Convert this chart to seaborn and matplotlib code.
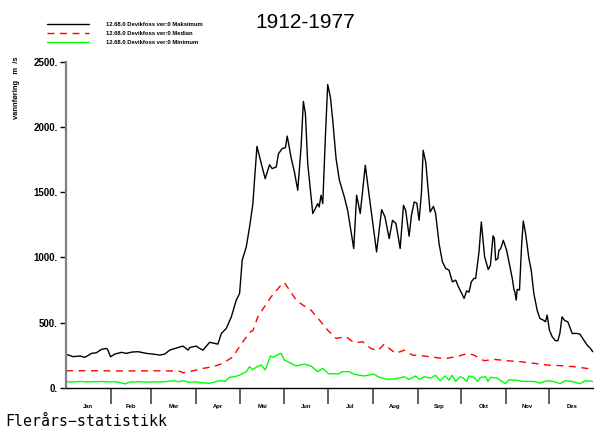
import numpy as np
import pandas as pd
import matplotlib
matplotlib.use("Agg")
import matplotlib.pyplot as plt
import seaborn as sns

# ---------------- data (day of year, flow m3/s) ----------------
max_day = [0, 5, 9.7, 13, 17.7, 21, 24.6, 28, 29, 30.8, 33.8, 38.4, 41.8, 45.3, 49.9, 55.6,
           61.4, 64.8, 68.3, 71.7, 76.3, 80.9, 84.4, 85.5, 90, 92.4, 94.7, 99.3, 102.8, 105,
           107.4, 110.8, 114.3, 117.7, 120, 121.8, 124.6, 126.9, 129.2, 130.3, 132, 135, 137.7,
           140.7, 142.5, 145.3, 146.9, 149.4, 151.7, 152.9, 153.9, 155.6, 157.9, 160.2, 162.5,
           164.1, 165.5, 167.1, 170.6, 172.9, 174, 175, 176.3, 177.5, 179.3, 180.9, 182.8, 184.4,
           186.7, 189, 192.4, 194.7, 198.9, 200.9, 203.4, 206.9, 209.7, 214.7, 218.2, 220.5,
           223.4, 225.7, 228.1, 231, 233.3, 234.8, 237.2, 238.8, 240.7, 242.5, 244.1, 245.7,
           246.9, 248.7, 251.7, 254, 255.5, 257.9, 260.2, 262.5, 264.8, 267.1, 269.4, 271.3,
           275.2, 277, 278.6, 280.2, 282, 283.2, 285.5, 287.1, 289.4, 291.9, 293.4, 295.2, 296.1,
           297, 298.5, 299.3, 300.5, 302.3, 304.6, 306.9, 308.5, 309.7, 310.3, 311.2, 311.9,
           313.5, 314.9, 316.1, 317.7, 320, 321.6, 323.4, 325.7, 327.6, 329.9, 331.5, 332.6,
           334.2, 336.1, 338.4, 340, 341.4, 342.9, 344.8, 346.9, 349.9, 352.9, 355.2, 357.9,
           360.2, 362.6, 364.1]
max_flow = [258, 240, 245, 235, 265, 270, 296, 303, 290, 239, 260, 273, 265, 275, 278, 265,
            258, 252, 260, 290, 306, 321, 290, 310, 321, 303, 290, 350, 341, 336,
            418, 456, 545, 673, 724, 979, 1080, 1233, 1412, 1590, 1850, 1718, 1603,
            1710, 1680, 1692, 1794, 1833, 1840, 1929, 1870, 1764, 1654, 1514, 1845,
            2194, 2100, 1718, 1336, 1386, 1412, 1386, 1476, 1412, 1921, 2324, 2227, 2049,
            1756, 1590, 1463, 1361, 1068, 1476, 1336, 1705, 1463, 1042, 1366, 1310,
            1144, 1284, 1259, 1068, 1399, 1361, 1162, 1323, 1424, 1416, 1284, 1491,
            1820, 1730, 1348, 1391, 1336, 1106, 966, 915, 902, 813, 826, 775,
            686, 744, 734, 813, 839, 839, 1042, 1271, 1004, 907, 940, 1165, 1146,
            979, 991, 1055, 1067, 1131, 1055, 928, 839, 750, 737, 673, 755,
            750, 1080, 1279, 1183, 991, 902, 724, 596, 533, 520, 507, 558,
            443, 392, 362, 362, 418, 545, 516, 507, 418, 418, 413, 367,
            329, 303, 278]

med_day = [0, 20, 40, 60, 78, 81, 84, 88, 92.4, 94.7, 101.6, 108.5, 115.4, 120.7, 122.3, 126.9,
           129.2, 132.6, 137.2, 141.8, 147.6, 151, 154.5, 159.1, 163.7, 169.4, 175.2, 180.9,
           186.7, 193.6, 199.3, 205, 210.8, 215.4, 220, 223.4, 228, 233.8, 239.5, 247.6, 254.5,
           261.4, 267.1, 271.7, 277.5, 282, 289, 295.9, 305, 314.3, 323.4, 332.6, 341.8, 351,
           360.2, 364]
med_flow = [132, 132, 130, 132, 130, 117, 125, 132, 143, 150, 163, 189, 239, 330, 354, 425,
            440, 545, 622, 698, 775, 808, 749, 673, 635, 596, 520, 443,
            380, 392, 346, 354, 303, 285, 336, 303, 265, 290, 252, 245, 235,
            224, 235, 245, 265, 252, 209, 219, 209, 201, 189, 176, 171, 163,
            150, 138]

min_day = [0, 5, 10, 15, 20, 25, 30, 35, 41, 44, 50, 55, 60, 65, 70, 75, 78, 81, 85, 90, 92.4,
           99, 106, 110, 113, 117, 120, 124.6, 126.9, 129, 132, 135, 137.7, 141.4, 143.5, 145.7,
           148.7, 151, 155.6, 159.1, 164.8, 169.4, 174, 177.5, 181.6, 183, 188.5, 191, 195.6,
           199.3, 206, 212.6, 216.6, 222.3, 228, 233.8, 237, 241.8, 244, 247.6, 252, 255.5,
           258.6, 262, 264.8, 267, 269.4, 272.4, 274.7, 277, 278.6, 282, 284.4, 286.7, 290.1,
           291.7, 293.4, 298, 303.7, 306, 310.6, 316.3, 323.4, 327.6, 332.6, 337.2, 341.4,
           345.3, 349.9, 355.2, 359, 364]
min_flow = [48, 46, 50, 47, 48, 50, 46, 48, 31, 46, 48, 45, 47, 46, 50, 56, 48, 56, 44, 47, 41,
            36, 56, 52, 82, 88, 99, 125, 163, 140, 163, 176, 138, 245, 235, 252,
            265, 214, 189, 168, 183, 168, 125, 150, 107, 110, 107, 125, 125,
            105, 92, 107, 82, 66, 71, 86, 66, 92, 66, 86, 76, 97,
            56, 92, 61, 97, 50, 86, 76, 50, 92, 82, 50, 82, 86,
            50, 82, 76, 33, 61, 61, 50, 50, 38, 56, 50, 33,
            56, 50, 33, 56, 50]

months = ["Jan", "Feb", "Mar", "Apr", "Mai", "Jun", "Jul", "Aug", "Sep", "Okt", "Nov", "Des"]
month_len = [31, 28, 31, 30, 31, 30, 31, 31, 30, 31, 30, 31]
y_ticks = [0, 500, 1000, 1500, 2000, 2500]
y_tick_labels = ["0.", "500.", "1000.", "1500.", "2000.", "2500."]
series_labels = ["12.68.0 Devikfoss ver:0 Maksimum",
                 "12.68.0 Devikfoss ver:0 Median",
                 "12.68.0 Devikfoss ver:0 Minimum"]
title = "1912-1977"
y_label = "vannføring   m  /s"
footer = "Flerårs−statistikk"

# ---------------- plot ----------------
sns.set_theme(style="white")
plt.rcParams['font.family'] = ['Liberation Sans', 'DejaVu Sans']
plt.rcParams['text.color'] = 'black'
plt.rcParams['xtick.color'] = 'black'
plt.rcParams['ytick.color'] = 'black'
plt.rcParams['axes.labelcolor'] = 'black'
small_font = ['Liberation Sans', 'DejaVu Sans']

W, H = 594, 428
fig = plt.figure(figsize=(W / 100, H / 100), dpi=100)
ax = fig.add_axes([66 / W, 1 - 388 / H, 1 - 66 / W, (388 - 61.5) / H])

sns.lineplot(x=max_day, y=max_flow, color="black", linewidth=1.0, estimator=None,
             ax=ax, label=series_labels[0])
sns.lineplot(x=med_day, y=med_flow, color="#ff0000", linewidth=1.0, estimator=None,
             linestyle=(0, (5, 4)), ax=ax, label=series_labels[1])
sns.lineplot(x=min_day, y=min_flow, color="#00ff00", linewidth=1.0, estimator=None,
             ax=ax, label=series_labels[2])

ax.set_xlim(0, 365)
ax.set_ylim(0, 2500)
ax.set_xlabel("")
ax.set_ylabel("")

for s in ["top", "right"]:
    ax.spines[s].set_visible(False)
ax.spines["left"].set_color("#808080")
ax.spines["left"].set_linewidth(1.6)
ax.spines["bottom"].set_color("black")
ax.spines["bottom"].set_linewidth(1.0)

starts = np.cumsum([0] + month_len)
mids = (starts[:-1] + starts[1:]) / 2
ax.set_xticks(starts[1:-1])
ax.set_xticklabels([])
ax.set_xticks(mids, minor=True)
ax.set_xticklabels(months, minor=True)
ax.tick_params(axis="x", which="major", direction="out", length=11.5, width=1.3,
               color="#555555", bottom=True)
ax.tick_params(axis="x", which="minor", length=0, pad=11.5, labelsize=4.2, bottom=True,
               labelcolor="black")
for t in ax.get_xticklabels(minor=True):
    t.set_family(small_font)
    t.set_weight("bold")

ax.set_yticks(y_ticks)
ax.set_yticklabels(y_tick_labels)
ax.tick_params(axis="y", direction="out", length=4.5, width=1.0, color="black",
               labelsize=7, pad=1.5, left=True, labelcolor="black")
for t in ax.get_yticklabels():
    t.set_weight("bold")

handles, labels = ax.get_legend_handles_labels()
ax.get_legend().remove()
fig.legend(handles, labels, loc="upper left", bbox_to_anchor=(47 / W, 1 - 21.5 / H),
           frameon=False, handlelength=7.2, handletextpad=2.9, labelspacing=0.72,
           borderpad=0, borderaxespad=0, labelcolor="black",
           prop={"family": small_font, "weight": "bold", "size": 4.2})

fig.text(305 / W, 1 - 23 / H, title, ha="center", va="center", fontsize=15, color="black")
fig.text(17 / W, 1 - 88 / H, y_label, rotation=90, ha="center", va="center",
         fontsize=5.4, fontweight="bold", color="black")
fig.text(5 / W, 1 - 421 / H, footer, ha="left", va="center", fontsize=10.7,
         family=["DejaVu Sans Mono"], color="black")

fig.savefig("out.png", dpi=100)
